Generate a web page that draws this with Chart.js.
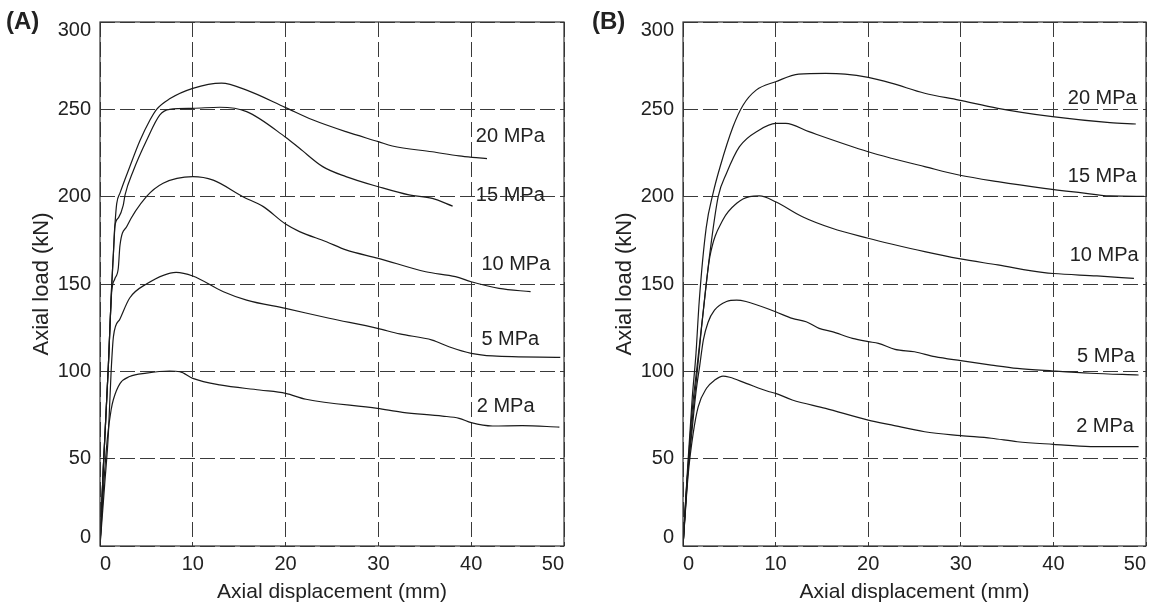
<!DOCTYPE html>
<html lang="en">
<head>
<meta charset="UTF-8">
<title>Axial load vs axial displacement</title>
<script src="https://cdn.jsdelivr.net/npm/chart.js"></script>
<style>
  body { margin: 0; background: #fff; font-family: "Liberation Sans", Arial, sans-serif; }
  .panel { position: absolute; top: 0; }
  .tag { position: absolute; top: 7px; font-weight: bold; font-size: 24px; line-height: 28px; color: #222; }
</style>
</head>
<body>
<canvas id="chartA" class="panel" style="left:0" width="576" height="609"></canvas>
<canvas id="chartB" class="panel" style="left:583px" width="569" height="609"></canvas>
<div class="tag" style="left:6px">(A)</div>
<div class="tag" style="left:592px">(B)</div>
<script>
const pressures = ['20 MPa', '15 MPa', '10 MPa', '5 MPa', '2 MPa'];
const yTicks = [0, 50, 100, 150, 200, 250, 300];

// Panel A: [axial displacement (mm), axial load (kN)]
const a20 = [[0,0],[0.36,45],[0.9,103],[1.25,148],[1.45,168],[1.6,183],[1.8,196],[2.15,202],[3.2,217],[4.3,232],[5.4,244],[6.1,250],[7.5,256],[10,262],[13.1,265],[15.8,261],[20,251],[22.9,244],[26.5,237.2],[30,231.5],[31.5,229],[35.8,225.7],[38.7,223.3],[40.1,222.5],[41.7,221.8]];
const a15 = [[0,0],[0.36,45],[0.9,103],[1.25,148],[1.45,168],[1.6,183],[2.0,188],[2.5,195],[2.7,201],[3.6,215],[5,232],[6.45,246.8],[7.5,250],[10,250.6],[12.9,251.2],[15.8,248.7],[20,234],[21.5,227.7],[24,217.2],[26.5,211.5],[30,205.7],[33.3,201],[35.8,199],[38,194.6]];
const a10 = [[0,0],[0.36,45],[0.9,103],[1.25,145],[1.6,153],[1.97,159],[2.15,172],[2.9,183],[5,200],[6.8,207.7],[10,211.5],[12.2,209.5],[15.4,200],[17.6,194.3],[20,184.3],[21.5,180],[24.4,174.2],[26.5,169.5],[30,164.7],[35.1,157],[38.3,154.2],[40,151.3],[43,147.5],[46.4,145.6]];
const a5 = [[0,0],[0.5,35],[0.9,64],[1.2,100],[1.45,120],[2.15,130],[3.2,142],[5,150],[8.2,156.7],[10,154.6],[13.3,145.6],[15.8,140.8],[20,136],[24.7,130.4],[29.9,124.6],[32.3,121.4],[35.8,117.9],[37.6,114.1],[40,110.3],[42.3,108.8],[49.6,108]];
const a2 = [[0,0],[0.4,35],[0.8,62],[1.2,78],[1.45,84],[2.15,93],[3.2,97],[5,99],[7.5,100.2],[8.6,99.8],[10,96],[12.9,92.2],[17.2,89.3],[20,87.4],[22.2,84],[29.9,78.8],[32.6,76.5],[36.9,74.4],[38.7,73.1],[40,70.6],[42.3,68.7],[45.5,68.9],[49.5,68.1]];

// Panel B
const b20 = [[0,0],[0.5,45],[1.0,85],[1.4,110],[1.75,140],[2.5,182],[3.25,202],[4,217],[5.4,240],[6.5,252.5],[7.9,261],[10,265.8],[12.5,270.2],[15.4,270.6],[17.5,270.2],[20,268.3],[22.5,265],[26.1,259.2],[29.8,255.3],[34,250.6],[39.9,245.8],[46.1,242.4],[48.9,241.6]];
const b15 = [[0,0],[0.5,42],[1.0,78],[1.5,102],[2.2,135],[2.9,167.6],[3.8,200],[4.7,213.4],[6.1,228.6],[8.25,238.2],[10,242],[11.1,242],[13.6,237.2],[20,225.7],[22.5,222],[26.1,217.2],[29.8,212.4],[34,208.6],[39,204.8],[42.9,202.3],[46.1,200.4],[49.8,200.2]];
const b10 = [[0,0],[0.5,40],[1.0,72],[1.5,98],[2.0,125],[2.4,145],[2.9,165.6],[4.3,186.6],[5.8,196.2],[7.2,200],[8.25,200.4],[10,197.1],[12.9,188.5],[16.1,181.9],[20,176.2],[22.5,172.9],[26.1,168.5],[29.8,164.5],[34,160.9],[39,156.5],[40,156],[44.7,154.6],[48.7,153.2]];
const b5 = [[0,0],[0.4,35],[0.9,62],[1.4,88],[1.8,103],[2.2,118],[2.7,128],[3.4,135],[4.7,140],[5.8,140.8],[6.8,140],[10,134.1],[11.8,130.3],[13.3,128.4],[14.7,124.6],[16.1,122.7],[18.3,118.9],[20,117],[21.1,116],[22.9,112.6],[25,111.2],[27.2,108.4],[30,106.1],[33.3,103.6],[36.1,101.7],[40,100.2],[44,98.9],[49.2,97.9]];
const b2 = [[0,0],[0.57,41.6],[1.1,64.5],[1.64,79.7],[2.54,90.3],[3.43,95],[4.32,97.3],[5.04,96.6],[6.82,93.1],[9.32,88.3],[10,87.4],[11.8,83.6],[15.4,78.8],[20,72.1],[22.5,69.3],[26.1,65.4],[30,63.2],[33.3,61.7],[36.1,59.7],[40,58.2],[44,56.9],[49.2,56.9]];

// curve label anchors, in axis units
const labelAx = [40.5, 40.5, 41.1, 41.1, 40.6];
const labelAy = [234.6, 200.7, 160.9, 118, 79.9];
const labelBx = [49, 49, 49.2, 48.8, 48.7];
const labelBy = [256.2, 211.5, 166.6, 108.5, 68.4];

const family = '"Liberation Sans", Arial, sans-serif';
const ink = '#222';

// frame, y tick labels and curve labels
const panelDecor = {
    id: 'panelDecor',
    afterDraw(chart, args, opts) {
        const {ctx, chartArea: a, scales: {x, y}} = chart;
        ctx.save();
        ctx.strokeStyle = '#333';
        ctx.lineWidth = 1.2;
        ctx.strokeRect(a.left, a.top, a.right - a.left, a.bottom - a.top);
        ctx.fillStyle = ink;
        ctx.font = '20px ' + family;
        ctx.textAlign = 'right';
        ctx.textBaseline = 'middle';
        yTicks.forEach(v => {
            let py = y.getPixelForValue(v);
            py = Math.min(Math.max(py, a.top + 8), a.bottom - 8.5);
            ctx.fillText(String(v), a.left - 9, py);
        });
        ctx.textAlign = opts.align;
        pressures.forEach((t, i) => {
            ctx.fillText(t, x.getPixelForValue(opts.lx[i]), y.getPixelForValue(opts.ly[i]));
        });
        ctx.restore();
    }
};

function makeChart(id, curves, lx, ly, align, padRight) {
    const gridOpts = { color: '#3a3a3a', lineWidth: 1, drawTicks: false };
    const borderOpts = { display: false, dash: [15, 5] };
    return new Chart(document.getElementById(id), {
        type: 'line',
        data: {
            datasets: curves.map((c, i) => ({
                label: pressures[i],
                data: c.map(p => ({x: p[0], y: p[1]})),
                borderColor: '#1a1a1a',
                borderWidth: 1.2,
                pointRadius: 0,
                cubicInterpolationMode: 'monotone',
                fill: false
            }))
        },
        options: {
            responsive: false,
            animation: false,
            layout: { padding: { top: 22, right: padRight, left: 0, bottom: 0 } },
            plugins: {
                legend: { display: false },
                tooltip: { enabled: false },
                panelDecor: { lx: lx, ly: ly, align: align }
            },
            scales: {
                x: {
                    type: 'linear', min: 0, max: 50,
                    ticks: { stepSize: 10, align: 'inner', padding: 6, color: ink, font: { size: 20, family: family } },
                    grid: gridOpts,
                    border: borderOpts,
                    title: { display: true, text: 'Axial displacement (mm)', color: ink,
                             font: { size: 21, family: family }, padding: { top: 0, bottom: 4 } },
                    afterFit: s => { s.height = 63; }
                },
                y: {
                    min: 0, max: 300,
                    ticks: { display: false, stepSize: 50 },
                    grid: gridOpts,
                    border: borderOpts,
                    title: { display: true, text: 'Axial load (kN)', color: ink,
                             font: { size: 22, family: family }, padding: { top: 29, bottom: 0 } },
                    afterFit: s => { s.width = 100; }
                }
            }
        },
        plugins: [panelDecor]
    });
}

makeChart('chartA', [a20, a15, a10, a5, a2], labelAx, labelAy, 'left', 12);
makeChart('chartB', [b20, b15, b10, b5, b2], labelBx, labelBy, 'right', 5);
</script>
</body>
</html>
